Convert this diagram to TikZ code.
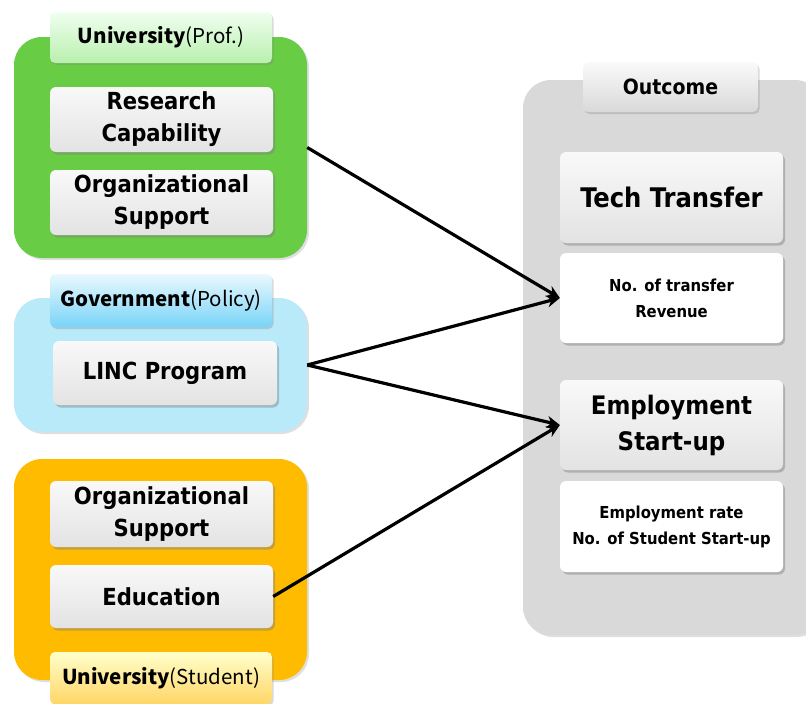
\documentclass[tikz,border=0pt]{standalone}
\usepackage{fontspec}
\setmainfont{DejaVu Sans Condensed}[BoldFont={DejaVu Sans Condensed Bold}]
\newfontfamily\hdfont{Noto Sans CJK KR}
\usetikzlibrary{shadows,arrows.meta}
\definecolor{cgreen}{RGB}{104,204,68}
\definecolor{cblue}{RGB}{184,234,250}
\definecolor{cbluedk}{RGB}{120,212,248}
\definecolor{corange}{RGB}{255,187,0}
\definecolor{cgray}{RGB}{217,217,217}
\tikzset{
  x=1pt,y=-1pt,
  container/.style={rounded corners=28pt, draw=none, drop shadow={opacity=0.25,shadow xshift=2pt,shadow yshift=-2pt}},
  itembox/.style={rounded corners=6pt, draw=none, top color=gray!5, bottom color=gray!22,
     drop shadow={opacity=0.45,shadow xshift=2pt,shadow yshift=-2.5pt}, align=center,
     font=\bfseries\fontsize{23.5}{32}\selectfont, inner sep=0pt},
  whitebox/.style={rounded corners=6pt, draw=none, fill=white,
     drop shadow={opacity=0.45,shadow xshift=2pt,shadow yshift=-2.5pt}, align=center,
     font=\bfseries\fontsize{16.5}{26}\selectfont, inner sep=0pt},
  hdr/.style={rounded corners=5pt, draw=none, align=center, inner sep=0pt,
     drop shadow={opacity=0.3,shadow xshift=1.5pt,shadow yshift=-2pt},
     font=\hdfont\fontsize{20.5}{22}\selectfont},
  conn/.style={line width=3.2pt, -{Stealth[length=13pt,width=12pt]}}
}
\begin{document}
\begin{tikzpicture}
\useasboundingbox (0,0) rectangle (806,704);
% containers
\node[container, fill=cgreen, minimum width=293pt, minimum height=221pt] (green) at (160.5,147.5) {};
\node[container, fill=cblue, minimum width=293pt, minimum height=134pt] (blue) at (160.5,365) {};
\node[container, fill=corange, minimum width=293pt, minimum height=221pt] (orange) at (160.5,569.5) {};
\node[container, fill=cgray, minimum width=300pt, minimum height=555pt] (gray) at (673,357.5) {};
% headers
\node[hdr, top color=green!6, bottom color=green!25!cgreen!40, minimum width=222pt, minimum height=51pt] (hgreen) at (161,37.5) {\textbf{University}(Prof.)};
\node[hdr, top color=cbluedk!15, bottom color=cbluedk, minimum width=222pt, minimum height=53pt] (hblue) at (161,300.5) {\textbf{Government}(Policy)};
\node[hdr, top color=yellow!20, bottom color=corange!60, minimum width=222pt, minimum height=52pt] (horange) at (161,678) {\textbf{University}(Student)};
\node[hdr, top color=gray!4, bottom color=gray!30, minimum width=175pt, minimum height=50pt, font=\bfseries\fontsize{21}{22}\selectfont] (hgray) at (670.5,87) {Outcome};
% items
\node[itembox, minimum width=223pt, minimum height=65pt] (rc) at (161.5,119.5) {Research\\Capability};
\node[itembox, minimum width=223pt, minimum height=65pt] (os1) at (161.5,202.5) {Organizational\\Support};
\node[itembox, minimum width=224pt, minimum height=64pt] (linc) at (165,373) {LINC Program};
\node[itembox, minimum width=223pt, minimum height=66pt] (os2) at (161.5,514) {Organizational\\Support};
\node[itembox, minimum width=223pt, minimum height=63pt] (edu) at (161.5,596.5) {Education};
\node[itembox, minimum width=223pt, minimum height=91pt, font=\bfseries\fontsize{27}{34}\selectfont] (tt) at (671.5,197.5) {Tech Transfer};
\node[whitebox, minimum width=223pt, minimum height=90pt] (nt) at (671.5,298) {No. of transfer\\Revenue};
\node[itembox, minimum width=223pt, minimum height=90pt, font=\bfseries\fontsize{25.5}{36}\selectfont] (es) at (671.5,425) {Employment\\Start-up};
\node[whitebox, minimum width=223pt, minimum height=91pt] (er) at (671.5,526.5) {Employment rate\\No. of Student Start-up};
% connectors
\draw[conn] (green.east) -- (nt.west);
\draw[conn] (blue.east) -- (nt.west);
\draw[conn] (blue.east) -- (es.west);
\draw[conn] (edu.east) -- (es.west);
\end{tikzpicture}
\end{document}
